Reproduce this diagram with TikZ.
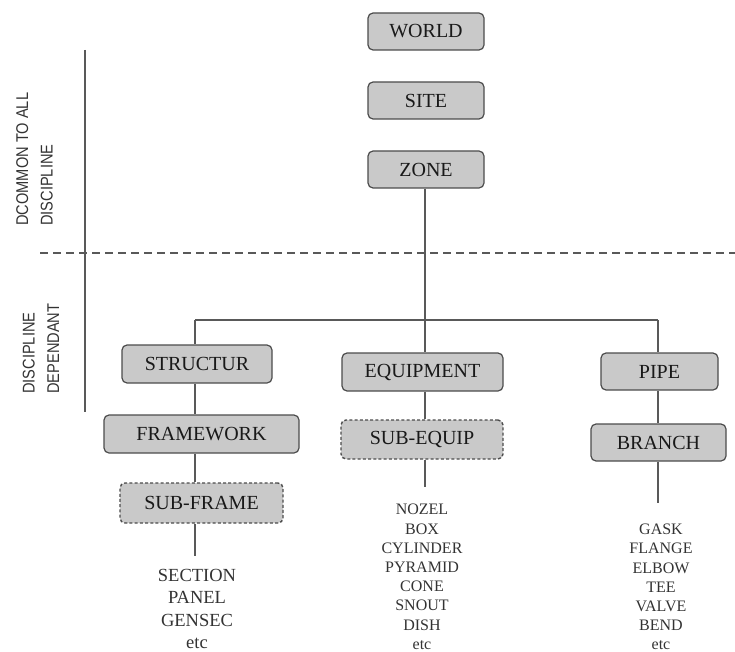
\documentclass[tikz,border=0pt]{standalone}
\usepackage{fontspec}
\setmainfont{Liberation Serif}
\newfontfamily\narrowfont[FakeStretch=0.86]{Liberation Sans}
\begin{document}
\begin{tikzpicture}[x=1pt,y=-1pt,
  conn/.style={draw=black!65,line width=1.3pt},
  box/.style={draw=black!70,line width=1.2pt,fill=black!21,rounded corners=5pt,
    inner sep=0pt,font=\fontsize{20}{24}\selectfont,text=black!90},
  dbox/.style={box,dash pattern=on 3pt off 2.2pt,line width=1.4pt},
  listtxt/.style={align=center,inner sep=0pt,text=black!80},
  sidetxt/.style={rotate=90,anchor=west,align=left,inner sep=0pt,text=black!80,
    font=\narrowfont\fontsize{17}{24.5}\selectfont}]
\useasboundingbox (0,0) rectangle (735,652);
% top boxes
\node[box,minimum width=116pt,minimum height=37pt] (world) at (426,31.5) {WORLD};
\node[box,minimum width=116pt,minimum height=37pt] (site) at (426,100.5) {SITE};
\node[box,minimum width=116pt,minimum height=37pt] (zone) at (426,169.5) {ZONE};
% discipline boxes
\node[box,minimum width=150pt,minimum height=38pt] (strut) at (197,364) {STRUCTUR};
\node[box,minimum width=195pt,minimum height=38pt] (frame) at (201.5,434) {FRAMEWORK};
\node[dbox,minimum width=163pt,minimum height=40pt] (subframe) at (201.5,503) {SUB-FRAME};
\node[box,minimum width=161pt,minimum height=38pt] (equip) at (422.5,372) {EQUIPMENT};
\node[dbox,minimum width=162pt,minimum height=39pt] (subequip) at (422,439.5) {SUB-EQUIP};
\node[box,minimum width=117pt,minimum height=37pt] (pipe) at (659.5,371.5) {PIPE};
\node[box,minimum width=135pt,minimum height=37pt] (branch) at (658.5,442.5) {BRANCH};
% column coordinates
\coordinate (sx) at (195,320);
\coordinate (ex) at (425,320);
\coordinate (px) at (658,320);
\coordinate (send) at (195,556);
\coordinate (eend) at (425,487);
\coordinate (pend) at (658,503);
% connectors
\draw[conn] (zone.south -| ex) -- (ex);
\draw[conn] (sx) -- (px);
\draw[conn] (sx) -- (strut.north -| sx);
\draw[conn] (strut.south -| sx) -- (frame.north -| sx);
\draw[conn] (frame.south -| sx) -- (subframe.north -| sx);
\draw[conn] (subframe.south -| sx) -- (send);
\draw[conn] (ex) -- (equip.north -| ex);
\draw[conn] (equip.south -| ex) -- (subequip.north -| ex);
\draw[conn] (subequip.south -| ex) -- (eend);
\draw[conn] (px) -- (pipe.north -| px);
\draw[conn] (pipe.south -| px) -- (branch.north -| px);
\draw[conn] (branch.south -| px) -- (pend);
% lists
\node[listtxt,font=\fontsize{18.5}{22.3}\selectfont,anchor=north] (slist) at (197,569)
  {SECTION\\PANEL\\GENSEC\\etc};
\node[listtxt,font=\fontsize{16}{19.2}\selectfont,anchor=north] (elist) at (422,504)
  {NOZEL\\BOX\\CYLINDER\\PYRAMID\\CONE\\SNOUT\\DISH\\etc};
\node[listtxt,font=\fontsize{16}{19.1}\selectfont,anchor=north] (plist) at (661,524)
  {GASK\\FLANGE\\ELBOW\\TEE\\VALVE\\BEND\\etc};
% side markers
\coordinate (vtop) at (85,50);
\coordinate (vbot) at (85,412);
\draw[conn,line width=1.2pt] (vtop) -- (vbot);
\coordinate (dl) at (40,253);
\coordinate (dr) at (735,253);
\draw[conn,line width=1.3pt,dash pattern=on 8pt off 5pt] (dl) -- (dr);
\node[sidetxt] (common) at (34.5,226) {DCOMMON TO ALL\\DISCIPLINE};
\node[sidetxt] (dep) at (41,394) {DISCIPLINE\\DEPENDANT};
\end{tikzpicture}
\end{document}
